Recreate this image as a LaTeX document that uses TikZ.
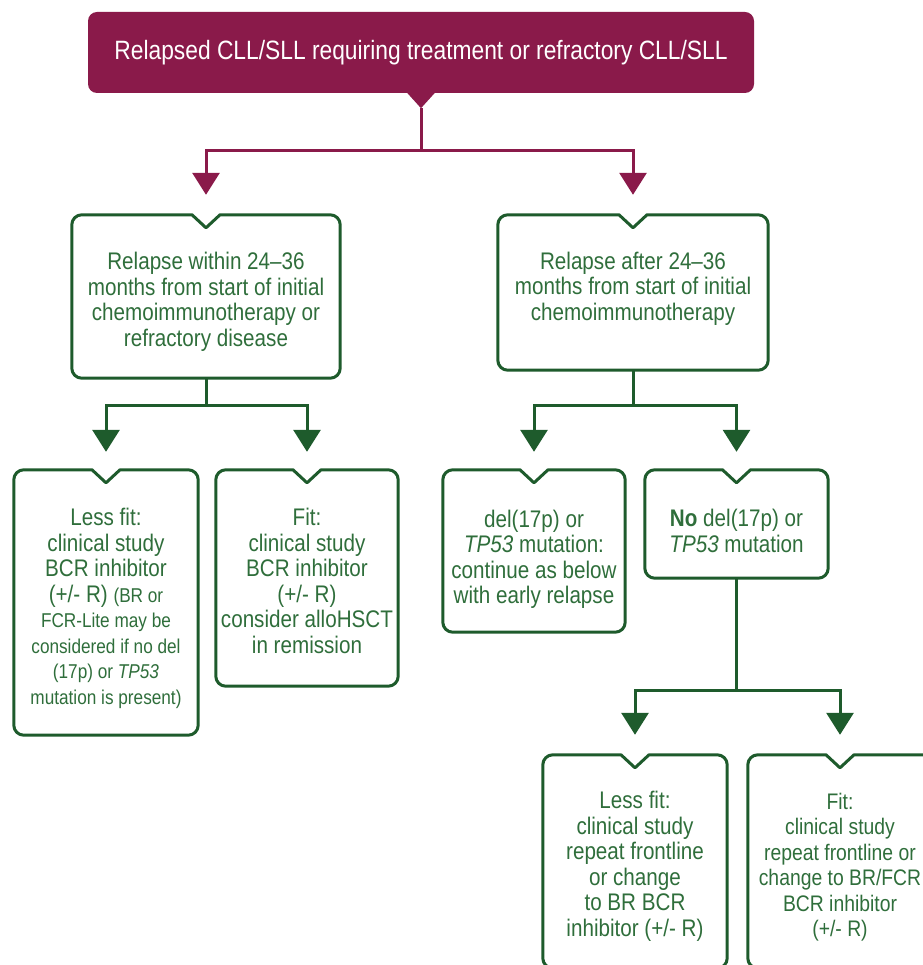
\documentclass[tikz,border=0pt]{standalone}
\usepackage{fontspec}
\setmainfont{Liberation Sans}[FakeStretch=0.86]
\usetikzlibrary{arrows.meta,positioning,calc}
\definecolor{maroon}{RGB}{138,26,74}
\definecolor{darkgreen}{RGB}{30,91,44}
\definecolor{textgreen}{RGB}{47,110,59}
\newcommand{\smalltxt}{\fontsize{20}{25.5}\selectfont}
\newcommand{\padtop}[1]{\rule{0pt}{#1pt}}
\newcommand{\padbot}[1]{\rule[-#1pt]{0pt}{#1pt}}
% outline with a notch at the top centre
\newcommand{\notchbox}[1]{%
  \draw[boxline] ($(#1.north)+(0,-13)$) -- ($(#1.north)+(14,0)$) -- ($(#1.north east)+(-10,0)$)
    arc[start angle=90, end angle=0, radius=10] -- ($(#1.south east)+(0,10)$)
    arc[start angle=0, end angle=-90, radius=10] -- ($(#1.south west)+(10,0)$)
    arc[start angle=270, end angle=180, radius=10] -- ($(#1.north west)+(0,-10)$)
    arc[start angle=180, end angle=90, radius=10] -- ($(#1.north)+(-14,0)$) -- cycle;}

\begin{document}
\begin{tikzpicture}[
    x=1pt, y=1pt,
    box/.style={rectangle, inner sep=0pt, align=center, text=textgreen, font=\fontsize{24}{25.5}\selectfont},
    topbox/.style={rectangle, fill=maroon, rounded corners=9pt, minimum width=666pt, minimum height=81pt,
      text=white, font=\fontsize{26.5}{28}\selectfont},
    boxline/.style={draw=darkgreen, line width=3pt, line join=round},
    garrow/.style={-{Triangle[width=27pt,length=22pt]}, draw=darkgreen, line width=3pt},
    marrow/.style={-{Triangle[width=27pt,length=22pt]}, draw=maroon, line width=3pt}
]
\useasboundingbox (0,0) rectangle (922,-965);

\node[topbox] (top) at (421,-52.5) {Relapsed CLL/SLL requiring treatment or refractory CLL/SLL};
\fill[maroon] ($(top.south)+(-14,0.5)$) -- ($(top.south)+(14,0.5)$) -- ($(top.south)+(0,-15)$) -- cycle;
\coordinate (tip) at ($(top.south)+(0,-15)$);

\node[box, minimum width=268pt, minimum height=163pt] (early) at (206,-296.5)
  {\padtop{27.5}Relapse within 24–36\\months from start of initial\\chemoimmunotherapy or\\refractory disease};
\node[box, minimum width=270pt, minimum height=155pt] (late) at (633,-292.5)
  {Relapse after 24–36\\months from start of initial\\chemoimmunotherapy\padbot{13}};

\node[box, minimum width=184pt, minimum height=265pt] (earlyless) at (106,-602.5)
  {\padtop{29.5}Less fit:\\clinical study\\BCR inhibitor\\(+/- R) {\smalltxt (BR or}\\\smalltxt FCR-Lite may be\\\smalltxt considered if no del\\\smalltxt (17p) or \textit{TP53}\\\smalltxt mutation is present)};
\node[box, minimum width=182pt, minimum height=216pt] (earlyfit) at (307,-578)
  {\padtop{23.5}Fit:\\clinical study\\BCR inhibitor\\(+/- R)\\consider alloHSCT\\in remission};
\node[box, minimum width=182pt, minimum height=162pt] (del) at (534,-551)
  {\padtop{33.5}del(17p) or\\\textit{TP53} mutation:\\continue as below\\with early relapse};
\node[box, minimum width=183pt, minimum height=108pt] (nodel) at (736.5,-524)
  {\padtop{31.5}\textbf{No} del(17p) or\\\textit{TP53} mutation};

\node[box, minimum width=184pt, minimum height=213pt] (lateless) at (635,-861.5)
  {\padtop{26.5}Less fit:\\clinical study\\repeat frontline\\or change\\to BR BCR\\inhibitor (+/- R)};
\node[box, minimum width=184pt, minimum height=213pt, font=\fontsize{22.5}{25.5}\selectfont] (latefit) at (840,-861.5)
  {\padtop{27.5}Fit:\\clinical study\\repeat frontline or\\change to BR/FCR\\BCR inhibitor\\(+/- R)};

\foreach \b in {early,late,earlyless,earlyfit,del,nodel,lateless,latefit}
  \notchbox{\b};

\draw[marrow] (tip) -- ++(0,-42) -| ([yshift=20pt]early.north);
\draw[marrow] (tip) -- ++(0,-42) -| ([yshift=20pt]late.north);
\draw[garrow] (early.south) -- ++(0,-27) -| ([yshift=18pt]earlyless.north);
\draw[garrow] (early.south) -- ++(0,-27) -| ([yshift=18pt]earlyfit.north);
\draw[garrow] (late.south) -- ++(0,-35) -| ([yshift=18pt]del.north);
\draw[garrow] (late.south) -- ++(0,-35) -| ([yshift=18pt]nodel.north);
\draw[garrow] (nodel.south) -- ++(0,-112) -| ([yshift=20pt]lateless.north);
\draw[garrow] (nodel.south) -- ++(0,-112) -| ([yshift=20pt]latefit.north);
\end{tikzpicture}
\end{document}
